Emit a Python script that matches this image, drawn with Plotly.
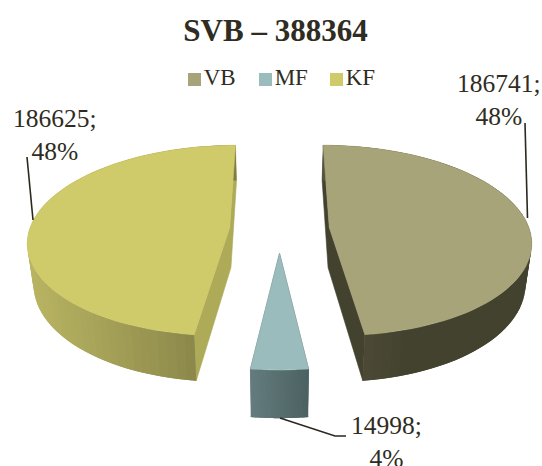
import math
import plotly.graph_objects as go

# ---- data ----
categories = ["VB", "MF", "KF"]
values = [186741, 14998, 186625]
chart_title = "SVB – 388364"

# ---- style / projection constants ----
FONT = "Liberation Serif"
INK = "#2f2c22"
top_colors = {"VB": "#a8a47a", "MF": "#9bbcbd", "KF": "#cfca6a"}
inner_colors = {"VB": "#43422f", "MF": "#4d6263", "KF": "#adaa58"}
side_from = {"VB": (0x59, 0x53, 0x3f), "MF": (0x64, 0x7c, 0x7e), "KF": (0xb8, 0xb4, 0x62)}
side_to = {"VB": (0x42, 0x42, 0x2e), "MF": (0x4c, 0x61, 0x62), "KF": (0x7e, 0x7a, 0x43)}
side_stop = {"VB": 0.45, "MF": 1.0, "KF": 1.0}

X0, Y0 = 279.5, 229.0   # pie centre on the page
A, B = 200.0, 93.8      # radius scale
K = 0.135               # perspective strength
H = 40.0                # thickness
SHRINK = 0.975          # lower rim convergence
EXPLODE = 0.25
STEPS = 72


def project(ang, r, mid, low=False):
    t, m = math.radians(ang), math.radians(mid)
    u = EXPLODE * math.sin(m) + r * math.sin(t)
    v = EXPLODE * math.cos(m) + r * math.cos(t)
    s = 1 + K * v
    x, y = X0 + A * u / s, Y0 - B * v / s
    if low:
        x, y = X0 + (x - X0) * SHRINK, y + H / s
    return x, y


def poly(fig, pts, color, lw=0.6):
    xs = [p[0] for p in pts] + [pts[0][0]]
    ys = [p[1] for p in pts] + [pts[0][1]]
    fig.add_trace(go.Scatter(x=xs, y=ys, mode="lines", fill="toself", fillcolor=color,
                             line=dict(color=color, width=lw), hoverinfo="skip",
                             showlegend=False))


fig = go.Figure()

total = sum(values)
shares = [v / total * 360 for v in values]
start = 180 - shares[1] / 2 - shares[0]

spans = []
a = start
for name, sh in zip(categories, shares):
    spans.append((name, a, a + sh))
    a += sh

for name, a0, a1 in spans:
    mid = (a0 + a1) / 2
    angs = [a0 + (a1 - a0) * i / STEPS for i in range(STEPS + 1)]
    # inner walls
    poly(fig, [project(a0, 1, mid), project(a0, 0, mid), project(a1, 1, mid),
               project(a1, 1, mid, True), project(a0, 0, mid, True), project(a0, 1, mid, True)],
         inner_colors[name])
    # outer wall, shaded left to right; quads overlap so no seams show
    xs_low = [project(t, 1, mid, True)[0] for t in angs]
    xmin, xmax = min(xs_low), max(xs_low)
    order = list(range(STEPS))
    if name == "VB":
        order = order[::-1]       # near edge is at the left, paint toward it
    for i in order:
        t0, t1 = angs[i], angs[i + 1]
        xm = (xs_low[i] + xs_low[i + 1]) / 2
        f = min(1.0, (xm - xmin) / (xmax - xmin) / side_stop[name])
        c = tuple(round(p + (q - p) * f) for p, q in zip(side_from[name], side_to[name]))
        if name == "VB":
            t_a, t_b = t0, angs[min(i + 2, STEPS)]
        else:
            t_a, t_b = angs[max(i - 1, 0)], t1
        poly(fig, [project(t_a, 1, mid), project(t_b, 1, mid),
                   project(t_b, 1, mid, True), project(t_a, 1, mid, True)],
             "rgb(%d,%d,%d)" % c, lw=0)
    # top face
    poly(fig, [project(a0, 0, mid)] + [project(t, 1, mid) for t in angs], top_colors[name])

# leader lines
leaders = [
    ([525, 527.5], [123, 218]),
    ([280, 335, 346], [418, 436, 436]),
    ([27, 33], [157, 220]),
]
for lx, ly in leaders:
    fig.add_trace(go.Scatter(x=lx, y=ly, mode="lines", line=dict(color="#2b281e", width=1.6),
                             hoverinfo="skip", showlegend=False))

# legend row
legend_x = [194.5, 265.5, 336.5]
legend_y = [79.5] * 3
fig.add_trace(go.Scatter(x=legend_x, y=legend_y, mode="markers+text", text=categories,
                         textposition="middle right",
                         textfont=dict(family=FONT, size=23, color=INK),
                         marker=dict(symbol="square", size=13,
                                     color=[top_colors[c] for c in categories]),
                         hoverinfo="skip", showlegend=False))

# data labels
label_pos = [(499, 100), (386, 442), (54.5, 135)]
for v, (lx, ly) in zip(values, label_pos):
    fig.add_annotation(x=lx, y=ly, xref="x", yref="y", showarrow=False, align="center",
                       text="%d;<br>%d%%" % (v, round(v / total * 100)),
                       font=dict(family=FONT, size=25.5, color=INK))

fig.update_layout(
    width=542, height=466, autosize=False,
    margin=dict(l=0, r=0, t=0, b=0),
    paper_bgcolor="white", plot_bgcolor="white",
    showlegend=False,
    title=dict(text="<b>%s</b>" % chart_title, x=275.5 / 542, xanchor="center",
               y=1 - 30 / 466, yanchor="middle",
               font=dict(family=FONT, size=31, color=INK)),
    xaxis=dict(range=[0, 542], visible=False, fixedrange=True),
    yaxis=dict(range=[466, 0], visible=False, fixedrange=True),
)
fig.write_html("out.html", config={"displayModeBar": False},
               post_script="document.body.style.margin='0';document.documentElement.style.overflow='hidden';")
